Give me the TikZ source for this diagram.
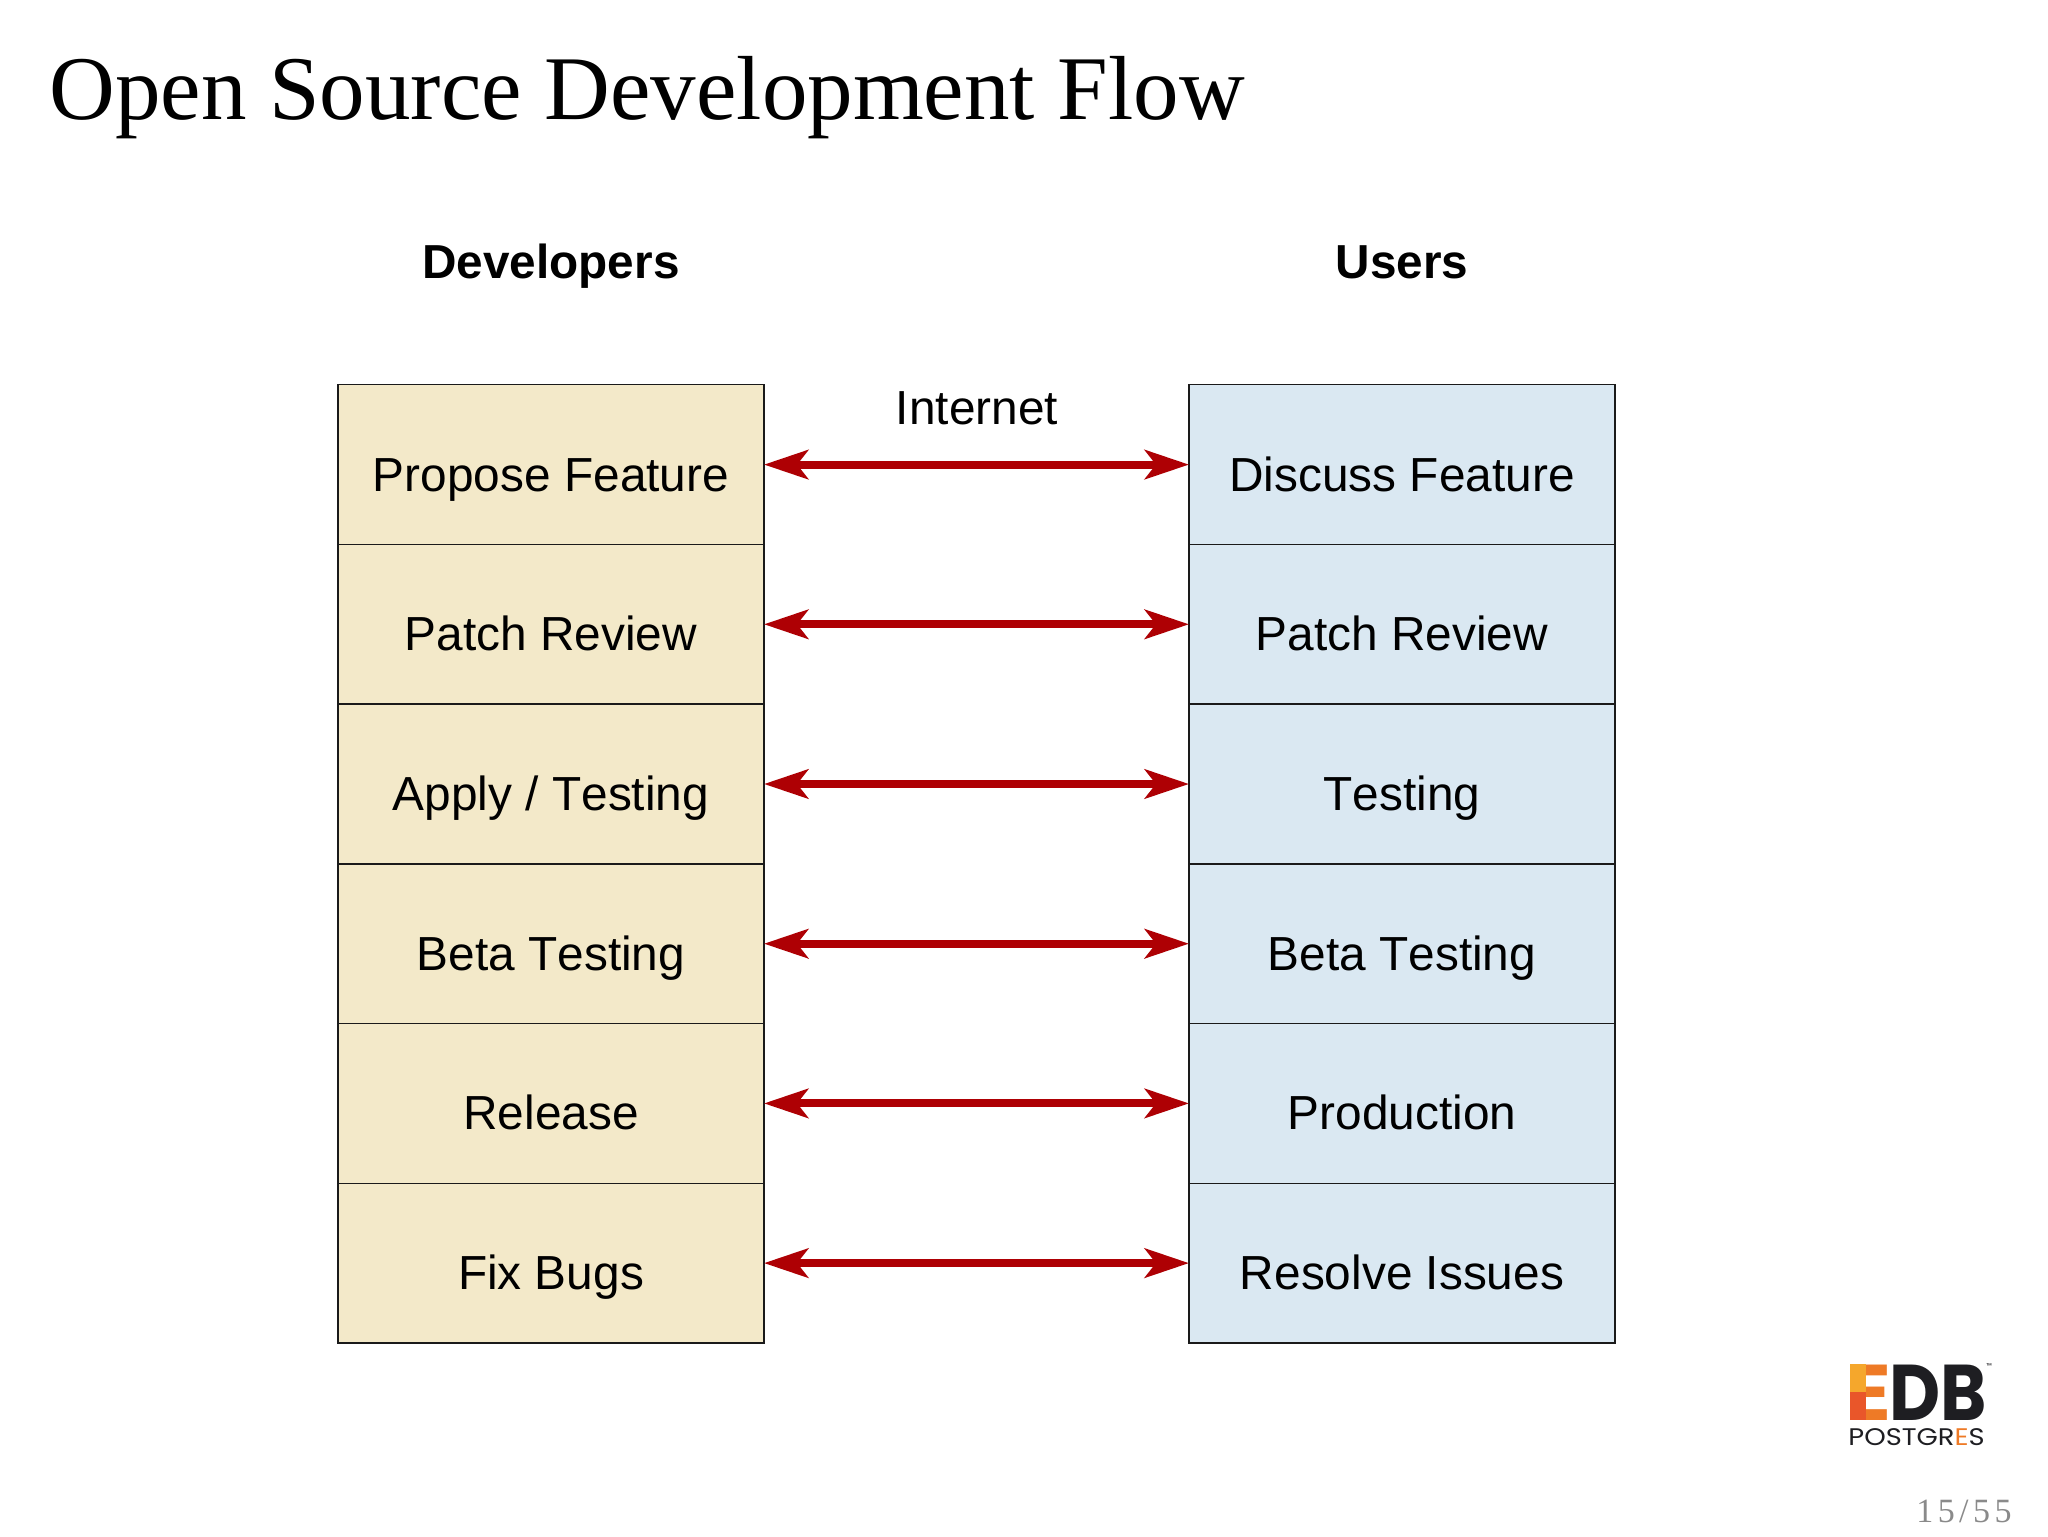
\documentclass[tikz,border=0pt]{standalone}
\usepackage{fontspec}
\usepackage{graphicx}
\usetikzlibrary{arrows.meta}
\setmainfont{Liberation Sans}[Kerning=Off]
\newfontfamily\titlefont{Liberation Serif}
\newfontfamily\pagefont[LetterSpace=13]{Liberation Serif}
\newfontfamily\logofont{Poppins}
\newfontfamily\logobold{Poppins}[BoldFont=* Bold]
\definecolor{devfill}{HTML}{F3E9C9}
\definecolor{usrfill}{HTML}{DAE8F2}
\definecolor{arrowred}{HTML}{AE0004}
\definecolor{edgeline}{HTML}{1A1A1A}
\definecolor{logodark}{HTML}{1E1E22}
\definecolor{logoorange}{HTML}{EE7A26}
\definecolor{logoyellow}{HTML}{F5A72C}
\definecolor{logored}{HTML}{E9562A}
\definecolor{pagegray}{HTML}{8A8A8A}
\tikzset{
  box/.style={draw=edgeline,line width=0.7pt,minimum width=213pt,minimum height=79.85pt,inner sep=0pt,outer sep=0pt},
  devbox/.style={box,fill=devfill},
  usrbox/.style={box,fill=usrfill},
  boxtext/.style={anchor=base,inner sep=0pt,font=\fontsize{23.9}{28}\selectfont,text=black},
  headtext/.style={boxtext,font=\fontsize{23.85}{28}\selectfont\bfseries},
  link/.style={draw=arrowred,line width=4pt,{Stealth[length=22pt,width=14.5pt,inset=5.5pt]}-{Stealth[length=22pt,width=14.5pt,inset=5.5pt]}}
}
\begin{document}
\begin{tikzpicture}[x=0.5pt,y=-0.5pt]
\useasboundingbox (0,0) rectangle (2048,1536);
\fill[white] (0,0) rectangle (2048,1536);
\node[anchor=base west,inner sep=0pt,font=\fontsize{45.5}{50}\titlefont] (title) at (49,119.5) {Open Source Development Flow};
\node[headtext] (hdev) at (551,278) {Developers};
\node[headtext] (husr) at (1402,278) {Users};
\node[boxtext] (inet) at (977,424) {Internet};
\foreach \i/\dt/\ut in {0/Propose Feature/Discuss Feature,1/Patch Review/Patch Review,2/{Apply / Testing}/Testing,3/Beta Testing/Beta Testing,4/Release/Production,5/Fix Bugs/Resolve Issues}{
  \node[devbox] (d\i) at (551,464.6+159.7*\i) {};
  \node[usrbox] (u\i) at (1402,464.6+159.7*\i) {};
  \node[boxtext] (dt\i) at ([yshift=-13.2pt]d\i.center) {\dt};
  \node[boxtext] (ut\i) at ([yshift=-13.2pt]u\i.center) {\ut};
  \draw[link] (d\i.east) -- (u\i.west);
}
% logo
\node[anchor=base west,inner sep=0pt,text=logoorange] (logoE) at (1846,1420) {\scalebox{1.05}[1]{\fontsize{39.5}{40}\logobold\bfseries E}};
\begin{scope}
  \clip (1850,1364) rectangle (1866,1420);
  \fill[logoyellow] (1850,1364) rectangle (1866,1395);
  \fill[logored] (1850,1392) rectangle (1866,1420);
\end{scope}
\node[anchor=base west,inner sep=0pt,text=logodark] (logoDB) at (1889,1420) {\scalebox{0.89}[1]{\fontsize{39.5}{40}\logobold\bfseries DB}};
\node[anchor=base west,inner sep=0pt,font=\fontsize{12}{14}\logofont] (logoP) at (1848,1445) {\scalebox{1.14}[1]{\textcolor{logodark}{POSTGR}\textcolor{logoorange}{E}\textcolor{logodark}{S}}};
\node[anchor=base west,inner sep=0pt,text=logodark,font=\fontsize{3.5}{4}\logofont] (logoTM) at (1986,1368) {™};
\node[anchor=base west,inner sep=0pt,text=pagegray,font=\fontsize{17}{20}\pagefont] (pg) at (1916,1522) {15/55};
\end{tikzpicture}
\end{document}
